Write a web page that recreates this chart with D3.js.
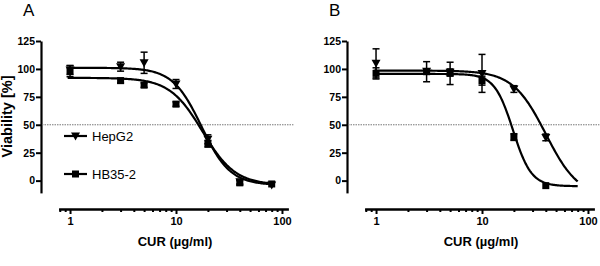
<!DOCTYPE html>
<html><head><meta charset="utf-8">
<script src="https://cdn.jsdelivr.net/npm/d3@7"></script>
<style>
html,body{margin:0;padding:0;background:#fff;}
svg{display:block;font-family:"Liberation Sans",Arial,Helvetica,sans-serif;}
</style></head>
<body><svg id="chart" width="600" height="266"></svg>
<script>
// ---- data ----
const concentrations = [1, 3, 5, 10, 20, 40, 80];
const seriesNames = ["HepG2", "HB35-2"];
const panelLabels = ["A", "B"];
const yTicks = [0, 25, 50, 75, 100, 125];
const xMajorTicks = [1, 10, 100];
const xMinorTicks = [0.8, 0.9, 2, 3, 4, 5, 6, 7, 8, 9, 20, 30, 40, 50, 60, 70, 80, 90];

// Panel A
const hepA    = [99, 102, 105.5, 86.5, 37, -1, -4];
const hepAErr = [4, 4, 9.5, 4, 4, 2, 1];
const hbA     = [98, 89.5, 85.5, 68.5, 33, -2, -3];
const hbAErr  = [5, 2, 2, 2, 3, 2, 1];
// Panel B
const hepB    = [105, 98, 97, 96, 82, 38.7, null];
const hepBErr = [13, 2, 3, 17, 3, 3, null];
const hbB     = [96, 97.5, 96, 89.5, 39, -4.5, null];
const hbBErr  = [5, 9, 10, 4, 3, 1, null];

// four-parameter logistic fits: [top, bottom, IC50, Hill]
const hepAFit = [101, -4, 17.4, 3.2];
const hbAFit  = [92, -4, 17.8, 2.8];
const hepBFit = [98.5, -15, 40, 2.8];
const hbBFit  = [95.5, -5, 19.6, 5];
const fitRange = [0.95, 80];

const panels = [
  {label: panelLabels[0], dx: 0, legend: true,
   series: [{name: seriesNames[0], vals: hepA, err: hepAErr, fit: hepAFit, sym: "tri"},
            {name: seriesNames[1], vals: hbA, err: hbAErr, fit: hbAFit, sym: "sq"}]},
  {label: panelLabels[1], dx: 306, legend: false,
   series: [{name: seriesNames[0], vals: hepB, err: hepBErr, fit: hepBFit, sym: "tri"},
            {name: seriesNames[1], vals: hbB, err: hbBErr, fit: hbBFit, sym: "sq"}]}
];

const svg = d3.select("#chart");
const logistic = (p, x) => p[1] + (p[0] - p[1]) / (1 + Math.pow(x / p[2], p[3]));

function marker(g, sym, cx, cy) {
  if (sym === "tri") {
    g.append("path").attr("d", `M${cx-4.5},${cy-3.5}L${cx+4.5},${cy-3.5}L${cx},${cy+4.5}Z`).attr("fill", "#000");
  } else {
    g.append("rect").attr("x", cx-3.5).attr("y", cy-3.5).attr("width", 7).attr("height", 7).attr("fill", "#000");
  }
}

panels.forEach(p => {
  const g = svg.append("g").attr("transform", `translate(${p.dx},0)`);
  const x = d3.scaleLog().domain([0.78, 115]).range([58.6, 288.4]);
  const y = d3.scaleLinear().domain([-11, 125]).range([192.9, 41]);
  const axisX = 41;
  const axisY = 209;

  // panel label
  g.append("text").attr("x", 23).attr("y", 16).attr("font-size", 17).text(p.label);

  // y axis
  const ya = g.append("g").attr("transform", `translate(${axisX},0)`)
    .call(d3.axisLeft(y).tickValues(yTicks).tickSize(5).tickSizeOuter(0).tickPadding(1));
  ya.select(".domain").attr("stroke-width", 2.2);
  ya.selectAll(".tick line").attr("stroke-width", 2);
  ya.selectAll(".tick text").attr("font-size", 10.5).attr("font-weight", "bold")
    .attr("font-family", "Liberation Sans, Arial, sans-serif");

  // x axis
  const xaMin = g.append("g").attr("transform", `translate(0,${axisY})`)
    .call(d3.axisBottom(x).tickValues(xMinorTicks).tickSize(3).tickSizeOuter(0).tickFormat(""));
  xaMin.selectAll(".tick line").attr("stroke-width", 2);
  xaMin.select(".domain").attr("stroke-width", 2.4);
  const xa = g.append("g").attr("transform", `translate(0,${axisY})`)
    .call(d3.axisBottom(x).tickValues(xMajorTicks).tickSize(5).tickSizeOuter(0).tickPadding(3).tickFormat(d3.format("d")));
  xa.select(".domain").remove();
  xa.selectAll(".tick line").attr("stroke-width", 2);
  xa.selectAll(".tick text").attr("font-size", 11).attr("font-weight", "bold")
    .attr("font-family", "Liberation Sans, Arial, sans-serif");

  // axis titles
  g.append("text").attr("x", 175).attr("y", 245.5).attr("text-anchor", "middle")
    .attr("font-size", 13).attr("font-weight", "bold").text("CUR (µg/ml)");
  if (p.dx === 0) {
    g.append("text").attr("transform", "translate(11.5,116.5) rotate(-90)").attr("text-anchor", "middle")
      .attr("font-size", 14.5).attr("font-weight", "bold").text("Viability [%]");
  }

  // 50% reference line
  g.append("line").attr("x1", axisX + 1).attr("x2", x(115) + 5).attr("y1", y(50)).attr("y2", y(50))
    .attr("stroke", "#777").attr("stroke-width", 1).attr("stroke-dasharray", "1.5,1");

  // fitted curves
  const xs = d3.range(0, 201).map(i => Math.pow(10, Math.log10(fitRange[0]) + i / 200 * (Math.log10(fitRange[1]) - Math.log10(fitRange[0]))));
  const line = d3.line().x(d => x(d[0])).y(d => y(d[1]));
  p.series.forEach(s => {
    g.append("path").datum(xs.map(v => [v, logistic(s.fit, v)]))
      .attr("d", line).attr("fill", "none").attr("stroke", "#000").attr("stroke-width", 2.2);
  });

  // error bars + markers
  p.series.forEach(s => {
    concentrations.forEach((c, i) => {
      const v = s.vals[i];
      if (v == null) return;
      const e = s.err[i] || 0;
      const cx = x(c);
      if (e > 1.5) {
        g.append("line").attr("x1", cx).attr("x2", cx).attr("y1", y(v - e)).attr("y2", y(v + e)).attr("stroke", "#000").attr("stroke-width", 1.5);
        [v - e, v + e].forEach(t => g.append("line").attr("x1", cx - 3.5).attr("x2", cx + 3.5).attr("y1", y(t)).attr("y2", y(t)).attr("stroke", "#000").attr("stroke-width", 1.5));
      }
    });
  });
  p.series.forEach(s => {
    concentrations.forEach((c, i) => {
      const v = s.vals[i];
      if (v == null) return;
      marker(g, s.sym, x(c), y(v));
    });
  });

  // legend
  if (p.legend) {
    const legY = [136, 174];
    p.series.forEach((s, i) => {
      g.append("line").attr("x1", 64).attr("x2", 87).attr("y1", legY[i]).attr("y2", legY[i]).attr("stroke", "#000").attr("stroke-width", 2.2);
      marker(g, s.sym, 75.5, legY[i]);
      g.append("text").attr("x", 92).attr("y", legY[i]).attr("dy", "0.35em").attr("font-size", 13).text(s.name);
    });
  }
});
</script></body></html>
